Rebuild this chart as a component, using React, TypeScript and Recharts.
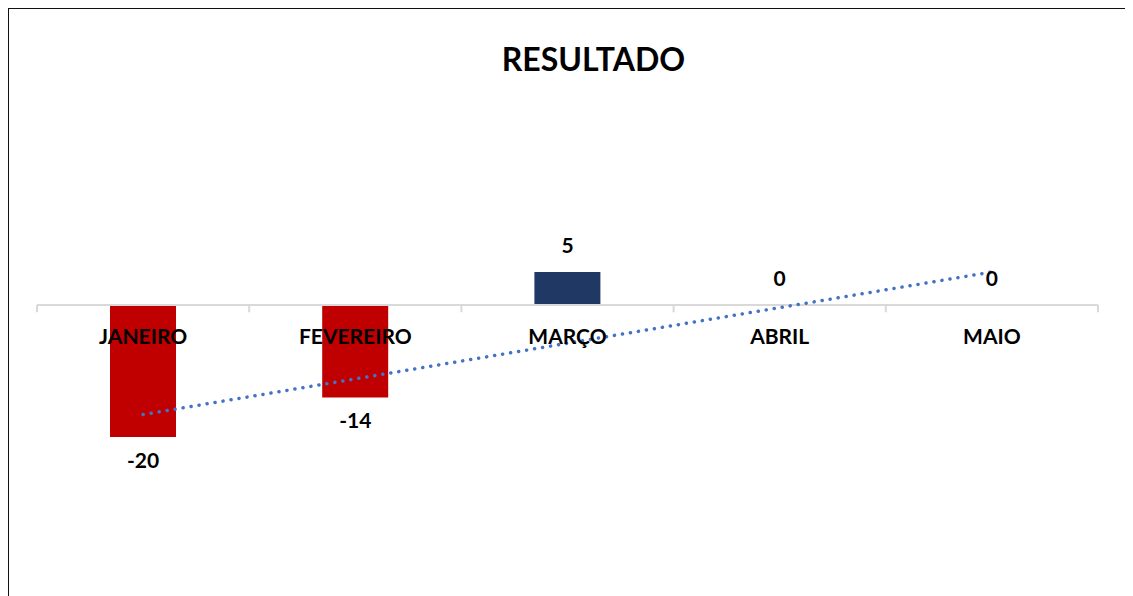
import { ComposedChart, Bar, Line, XAxis, YAxis, Cell, LabelList, ReferenceLine } from 'recharts';

const months = ['JANEIRO', 'FEVEREIRO', 'MARÇO', 'ABRIL', 'MAIO'];
const resultado = [-20, -14, 5, 0, 0];

// linear trendline (least squares) over the month index, like the spreadsheet one
const n = resultado.length;
const meanX = (n + 1) / 2;
const meanY = resultado.reduce((a, b) => a + b, 0) / n;
const slope =
   resultado.reduce((acc, y, i) => acc + (i + 1 - meanX) * (y - meanY), 0) /
   resultado.reduce((acc, _y, i) => acc + (i + 1 - meanX) ** 2, 0);

const data = months.map((m, i) => ({
   month: m,
   value: resultado[i],
   trend: meanY + slope * (i + 1 - meanX),
   zero: 0,
}));

// tick marks between categories: left edge of every band plus the right edge of the last
const tickMarks = [
   ...months.map((m) => ({ month: m, position: 'start' as const })),
   { month: months[months.length - 1], position: 'end' as const },
];

const FONT = 'Lato, "Open Sans", sans-serif';
const labelStyle = { fontFamily: FONT, fontWeight: 700, fontSize: 21, fill: '#000' };

// value label sits at the end of the bar: under it when negative, above otherwise
function ValueLabel(props: any) {
   const { x, y, value } = props;
   const neg = value < 0;
   return (
      <text x={x} y={neg ? y + 31 : y - 19} textAnchor="middle" style={labelStyle}>
         {value}
      </text>
   );
}

export default function App() {
   return (
      <div
         style={{
            position: 'relative',
            marginLeft: -1,
            marginTop: -1,
            width: 1117,
            height: 600,
            border: '2px solid #111',
            background: '#fff',
            fontFamily: FONT,
         }}
      >
         <div
            style={{
               position: 'absolute',
               left: 52,
               right: 0,
               top: 30,
               textAlign: 'center',
               fontWeight: 700,
               fontSize: 32,
               color: '#000',
            }}
         >
            RESULTADO
         </div>
         <ComposedChart
            width={1117}
            height={590}
            data={data}
            margin={{ top: 230, right: 28, left: 28, bottom: 96 }}
         >
            <XAxis dataKey="month" hide />
            <YAxis domain={[-30, 10]} hide />
            <ReferenceLine y={0} stroke="#D9D9D9" strokeWidth={2} />
            {tickMarks.map((t, i) => (
               <ReferenceLine
                  key={i}
                  segment={[{ x: t.month, y: 0 }, { x: t.month, y: -1.1 }]}
                  position={t.position}
                  stroke="#D9D9D9"
                  strokeWidth={2}
                  ifOverflow="visible"
               />
            ))}
            <Bar dataKey="value" barSize={66} isAnimationActive={false}>
               {data.map((d, i) => (
                  <Cell key={i} fill={d.value < 0 ? '#C00000' : '#1F3864'} />
               ))}
            </Bar>
            <Line dataKey="value" stroke="none" dot={false} isAnimationActive={false}>
               <LabelList dataKey="value" content={<ValueLabel />} />
            </Line>
            <Line dataKey="zero" stroke="none" dot={false} isAnimationActive={false}>
               <LabelList dataKey="month" position="bottom" offset={24} style={labelStyle} />
            </Line>
            <Line
               dataKey="trend"
               stroke="#4472C4"
               strokeWidth={3.5}
               strokeDasharray="0.1 8"
               strokeLinecap="round"
               dot={false}
               isAnimationActive={false}
            />
         </ComposedChart>
      </div>
   );
}
